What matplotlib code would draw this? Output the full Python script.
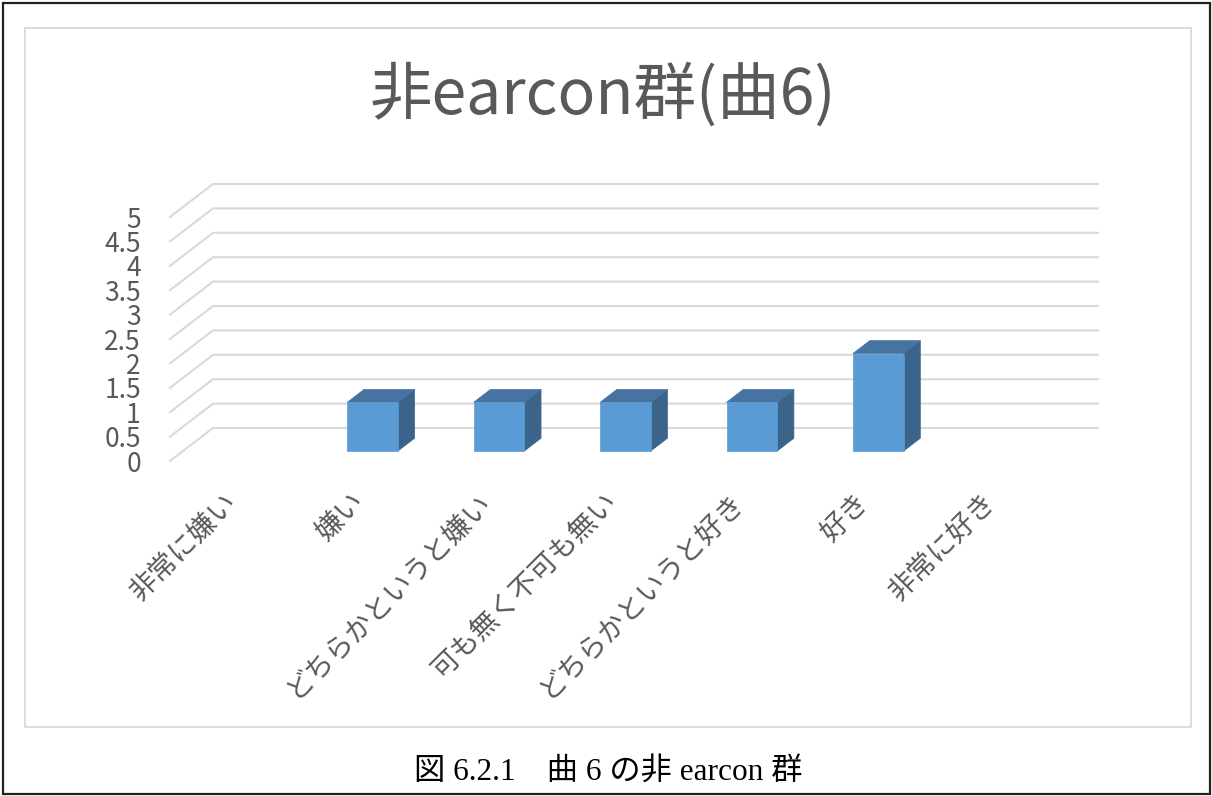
import numpy as np
import matplotlib

matplotlib.use("Agg")
import matplotlib.pyplot as plt
from matplotlib.patches import Polygon, Rectangle

plt.rcParams["font.family"] = ["Noto Sans CJK JP", "DejaVu Sans"]

categories = ["非常に嫌い", "嫌い", "どちらかというと嫌い", "可も無く不可も無い",
              "どちらかというと好き", "好き", "非常に好き"]
values = [0, 1, 1, 1, 1, 2, 0]
y_ticks = [0, 0.5, 1, 1.5, 2, 2.5, 3, 3.5, 4, 4.5, 5]
y_tick_labels = ["0", "0.5", "1", "1.5", "2", "2.5", "3", "3.5", "4", "4.5", "5"]
title = "非earcon群(曲6)"
caption = "図 6.2.1\u3000曲 6 の非 earcon 群"

TEXT = "#595959"
GRID = "#D9D9D9"
FRONT = "#5B9BD5"
TOP = "#4673A0"
SIDE = "#3A6489"

W, H = 1212, 796
fig = plt.figure(figsize=(W / 100, H / 100), dpi=100)

# outer frame + inner chart area border
fig.patches.append(Rectangle((3 / W, 2 / H), 1207 / W, 791 / H, transform=fig.transFigure,
                             fill=False, edgecolor="#222222", linewidth=1.6))
fig.patches.append(Rectangle((25 / W, 69 / H), 1166 / W, 699 / H, transform=fig.transFigure,
                             fill=False, edgecolor=GRID, linewidth=1.3))

# front plane of the 3d floor/wall box
ax = fig.add_axes([170 / W, (H - 461) / H, 885 / W, 244 / H])
n = len(categories)
ax.set_xlim(-0.5, n - 0.5)
ax.set_ylim(0, 5)
for s in ax.spines.values():
    s.set_visible(False)

# depth offset of the back wall in data units
dx = 43 / (885 / n)
dy = 33 / (244 / 5)

for v in y_ticks:
    ax.plot([-0.5, -0.5 + dx, n - 0.5 + dx], [v, v + dy, v + dy],
            color=GRID, linewidth=1.5, clip_on=False, zorder=1)

bar_w = 0.40
t0, depth = 0.30, 0.39
for i, val in enumerate(values):
    if val <= 0:
        continue
    x0 = i - bar_w / 2 + t0 * dx
    y0 = t0 * dy
    y1 = y0 + val
    ddx, ddy = depth * dx, depth * dy
    ax.add_patch(Polygon([(x0 + bar_w, y0), (x0 + bar_w + ddx, y0 + ddy),
                          (x0 + bar_w + ddx, y1 + ddy), (x0 + bar_w, y1)],
                         closed=True, facecolor=SIDE, edgecolor=SIDE, lw=0.5,
                         clip_on=False, zorder=3))
    ax.add_patch(Polygon([(x0, y1), (x0 + bar_w, y1), (x0 + bar_w + ddx, y1 + ddy),
                          (x0 + ddx, y1 + ddy)],
                         closed=True, facecolor=TOP, edgecolor=TOP, lw=0.5,
                         clip_on=False, zorder=3))
    ax.add_patch(Rectangle((x0, y0), bar_w, val, facecolor=FRONT, edgecolor=FRONT,
                           lw=0.5, clip_on=False, zorder=4))

ax.set_yticks(y_ticks, y_tick_labels)
ax.tick_params(axis="y", length=0, pad=21, labelsize=19, labelcolor=TEXT)
ax.set_xticks(np.arange(n))
ax.set_xticklabels(categories, rotation=45, ha="right", va="center",
                   rotation_mode="anchor")
ax.tick_params(axis="x", length=0, pad=26, labelsize=20, labelcolor=TEXT)

fig.text(603 / W, 1 - 95 / H, title, ha="center", va="center",
         fontsize=45, color=TEXT)
fig.text(608 / W, 1 - 772 / H, caption, ha="center", va="center",
         fontsize=22.5, color="black", family=["Liberation Serif", "Noto Sans CJK JP"])

fig.savefig("out.png", dpi=100)
